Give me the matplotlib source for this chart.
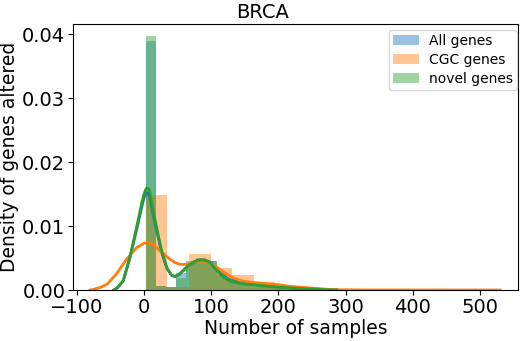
import numpy as np
import matplotlib
matplotlib.use("Agg")
import matplotlib.pyplot as plt

# ---- data ----
series_labels = ["All genes", "CGC genes", "novel genes"]
series_colors = ["#1f77b4", "#ff7f0e", "#2ca02c"]

# histogram bin edges / densities
all_edges = [3, 18, 33, 48, 63, 78, 93, 108, 123, 138, 153, 168, 183, 198, 213, 228, 243, 258, 273, 288]
all_heights = [0.0390, 0.0006, 0.0005, 0.0027, 0.0046, 0.0049, 0.0045, 0.0025, 0.0017, 0.0013,
               0.0011, 0.0009, 0.0007, 0.0005, 0.0004, 0.0003, 0.0002, 0.0001, 0.00005]

cgc_edges = [3, 35, 67, 99, 131, 163, 195, 227, 259, 291, 323, 355, 387, 419, 451, 483, 515]
cgc_heights = [0.0148, 0.0005, 0.0057, 0.0034, 0.0023, 0.0012, 0.0007, 0.0004, 0.0002,
               0.00005, 0.00003, 0.00003, 0.00002, 0.00002, 0.00002, 0.00002]

novel_edges = [3, 18, 33, 48, 63, 78, 93, 108, 123, 138, 153, 168, 183, 198, 213, 228, 243, 258, 273, 288]
novel_heights = [0.0397, 0.0006, 0.0005, 0.0019, 0.0042, 0.0050, 0.0045, 0.0024, 0.0016, 0.0012,
                 0.0010, 0.0008, 0.0006, 0.0004, 0.0003, 0.0002, 0.0001, 0.0001, 0.00005]

# KDE curves (x, density)
all_kde_x = [-45, -40, -31, -21, -11, -3.5, 0, 3, 5, 8, 14, 21, 26, 34, 41, 46, 52, 58, 66, 73, 80, 86,
             92, 98, 103, 108, 113, 120, 128, 135, 143, 155, 165, 173, 187, 200, 222, 240, 260, 287]
all_kde_y = [0.0, 0.0003, 0.0014, 0.0050, 0.0094, 0.0129, 0.0144, 0.0151, 0.0152, 0.0148, 0.0116,
             0.0083, 0.0060, 0.0034, 0.0023, 0.0021, 0.0024, 0.0030, 0.0038, 0.0043, 0.00465, 0.0047,
             0.0046, 0.0044, 0.0039, 0.0033, 0.0027, 0.0021, 0.0016, 0.0014, 0.0012, 0.0010, 0.0009,
             0.0008, 0.0006, 0.0005, 0.0003, 0.0002, 0.0001, 0.0]

cgc_kde_x = [-80, -75, -65, -55, -41, -26, -11, 0, 6, 15, 24, 32, 39, 46, 54, 63, 70, 78, 86, 93,
             100, 107, 113, 120, 128, 135, 143, 158, 172, 183, 202, 215, 232, 250, 272, 290, 320, 400, 530]
cgc_kde_y = [0.0, 0.0001, 0.0004, 0.0009, 0.0025, 0.0048, 0.0066, 0.0073, 0.0074, 0.0070, 0.0061,
             0.0054, 0.0048, 0.0043, 0.0040, 0.0040, 0.0042, 0.0045, 0.0045, 0.0044, 0.0041, 0.0037,
             0.0032, 0.0027, 0.0022, 0.0018, 0.0015, 0.0012, 0.0011, 0.0010, 0.0008, 0.0006, 0.00045,
             0.0003, 0.00012, 0.00005, 0.00002, 0.00001, 0.0]

novel_kde_x = [-45, -40, -31, -21, -11, -3.5, 0, 3, 5, 8, 14, 21, 26, 34, 41, 46, 52, 58, 66, 73, 80, 86,
               92, 98, 103, 108, 113, 120, 128, 135, 143, 155, 165, 173, 187, 200, 222, 240, 260, 287]
novel_kde_y = [0.0, 0.0003, 0.0014, 0.0051, 0.0098, 0.0135, 0.0150, 0.0158, 0.0160, 0.0156, 0.0122,
               0.0087, 0.0062, 0.0035, 0.0023, 0.0021, 0.0024, 0.0030, 0.0038, 0.0043, 0.00465, 0.0047,
               0.0046, 0.0043, 0.0037, 0.0031, 0.0025, 0.0019, 0.0014, 0.0012, 0.0010, 0.0009, 0.0008,
               0.0007, 0.00055, 0.00045, 0.0003, 0.0002, 0.0001, 0.0]

title = "BRCA"
x_label = "Number of samples"
y_label = "Density of genes altered"

# ---- plotting ----
fig = plt.figure(figsize=(5.26, 3.41), dpi=100)
ax = fig.add_axes([73 / 526, 1 - 290 / 341, 445 / 526, 266 / 341])

hists = [(all_edges, all_heights), (cgc_edges, cgc_heights), (novel_edges, novel_heights)]
kdes = [(all_kde_x, all_kde_y), (cgc_kde_x, cgc_kde_y), (novel_kde_x, novel_kde_y)]

for (edges, heights), (kx, ky), lab, col in zip(hists, kdes, series_labels, series_colors):
    e = np.asarray(edges, dtype=float)
    ax.bar(e[:-1], heights, width=np.diff(e), align="edge", color=col, alpha=0.45,
           linewidth=0, label=lab)
    ax.plot(kx, ky, color=col, lw=2)

ax.set_xlim(-105.6, 556.5)
ax.set_ylim(0, 0.0416)
ax.set_xticks([-100, 0, 100, 200, 300, 400, 500])
ax.set_yticks([0.0, 0.01, 0.02, 0.03, 0.04])
ax.tick_params(labelsize=14, pad=2)
ax.set_xlabel(x_label, fontsize=13.5, labelpad=2)
ax.set_ylabel(y_label, fontsize=13.5, labelpad=2)
fig.text(0.5, 1 - 3 / 341, title, fontsize=14, ha="center", va="top")
ax.legend(loc="upper right", fontsize=10, handlelength=1.9, handletextpad=0.7,
          bbox_to_anchor=(517 / 526, 1 - 30 / 341), bbox_transform=fig.transFigure,
          borderaxespad=0, borderpad=0.3, labelspacing=0.35)

fig.savefig("out.png", dpi=100)
